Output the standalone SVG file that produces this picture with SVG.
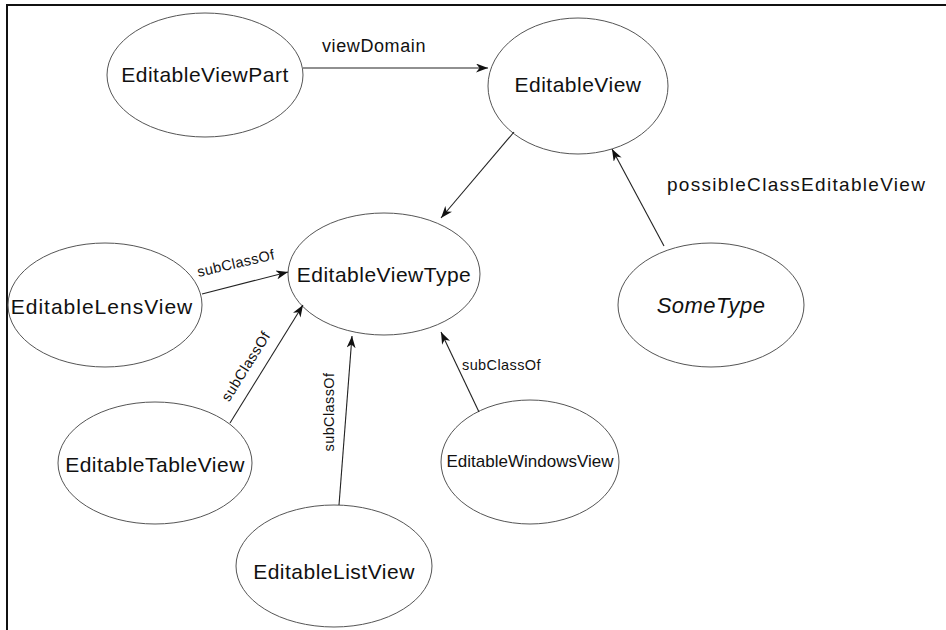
<svg xmlns="http://www.w3.org/2000/svg" width="946" height="630" viewBox="0 0 946 630">
  <defs>
    <marker id="arrow" markerUnits="userSpaceOnUse" markerWidth="13" markerHeight="9" refX="12" refY="4.5" orient="auto">
      <path d="M0,0 L12,4.5 L0,9 L3.5,4.5 z" fill="#111"/>
    </marker>
    <style>
      .frame { stroke: #111; stroke-width: 2; fill: none; }
      .node ellipse { fill: #fff; stroke: #555; stroke-width: 1; }
      .node text { font-family: "Liberation Sans", Arial, sans-serif; font-size: 21px; letter-spacing: 0.5px; fill: #111; text-anchor: middle; }
      .edges line { stroke: #222; stroke-width: 1.1; marker-end: url(#arrow); }
      .lbl { font-family: "Liberation Sans", Arial, sans-serif; fill: #111; }
      .big { font-size: 18px; letter-spacing: 0.6px; }
      .wide { font-size: 19px; letter-spacing: 1.3px; }
      .small { font-size: 14.5px; letter-spacing: 0.4px; }
    </style>
  </defs>

  <rect width="946" height="630" fill="#fff"/>

  <!-- page frame: top and left rules -->
  <path class="frame" d="M7,630 L7,5 L946,5"/>

  <g class="node" id="EditableViewPart">
    <ellipse cx="205" cy="75" rx="98" ry="62"/>
    <text x="205" y="82">EditableViewPart</text>
  </g>

  <g class="node" id="EditableView">
    <ellipse cx="578" cy="86" rx="90" ry="68"/>
    <text x="578" y="92">EditableView</text>
  </g>

  <g class="node" id="EditableViewType">
    <ellipse cx="384" cy="274" rx="96" ry="61"/>
    <text x="384" y="282">EditableViewType</text>
  </g>

  <g class="node" id="SomeType">
    <ellipse cx="711" cy="305" rx="93" ry="62"/>
    <text x="711" y="313" font-style="italic" style="font-size:22px">SomeType</text>
  </g>

  <g class="node" id="EditableLensView">
    <ellipse cx="105" cy="305" rx="97" ry="62"/>
    <text x="102" y="314" style="letter-spacing:1px">EditableLensView</text>
  </g>

  <g class="node" id="EditableTableView">
    <ellipse cx="155" cy="463" rx="97" ry="61"/>
    <text x="155" y="472">EditableTableView</text>
  </g>

  <g class="node" id="EditableWindowsView">
    <ellipse cx="530" cy="462" rx="89" ry="62"/>
    <text x="530" y="467" style="font-size:17px;letter-spacing:0">EditableWindowsView</text>
  </g>

  <g class="node" id="EditableListView">
    <ellipse cx="334" cy="566" rx="98" ry="61"/>
    <text x="334" y="579">EditableListView</text>
  </g>

  <!-- relations, drawn over the node outlines so the heads sit on the rims -->
  <g class="edges" id="connectors">
    <line x1="303" y1="68" x2="488" y2="68"/>
    <line x1="514" y1="132" x2="441" y2="218"/>
    <line x1="664" y1="246" x2="612" y2="149"/>
    <line x1="202" y1="294" x2="288" y2="272"/>
    <line x1="230" y1="423" x2="303" y2="305"/>
    <line x1="339" y1="505" x2="352" y2="336"/>
    <line x1="479" y1="412" x2="441" y2="332"/>

    <text class="lbl big" x="322" y="52">viewDomain</text>
    <text class="lbl wide" x="667" y="191">possibleClassEditableView</text>
    <text class="lbl small" transform="translate(237,268) rotate(-13)" text-anchor="middle">subClassOf</text>
    <text class="lbl small" transform="translate(250,369) rotate(-58)" text-anchor="middle">subClassOf</text>
    <text class="lbl small" transform="translate(334,412) rotate(-90)" text-anchor="middle">subClassOf</text>
    <text class="lbl small" x="462" y="370">subClassOf</text>
  </g>
</svg>
